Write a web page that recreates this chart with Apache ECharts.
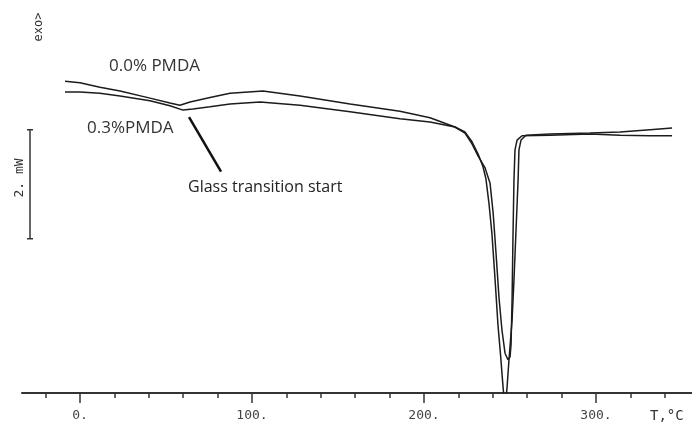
<!DOCTYPE html>
<html>
<head>
<meta charset="utf-8">
<script src="https://cdn.jsdelivr.net/npm/echarts@6/dist/echarts.min.js"></script>
<style>
html,body{margin:0;padding:0;background:#fff;}
#chart{width:692px;height:425px;}
</style>
</head>
<body>
<div id="chart"></div>
<script>
// Temperature (°C) / heat flow (mW, arbitrary offset) readings
const pmda00 = [
  [-8.7,5.72],[0,5.69],[11.6,5.61],[23.3,5.54],[40.7,5.41],[52.3,5.32],[58.1,5.28],
  [64.0,5.34],[75.6,5.42],[87.2,5.50],[106.4,5.54],[127.9,5.45],[157.0,5.30],[186.0,5.17],
  [203.5,5.05],[218.0,4.88],[223.8,4.79],[227.9,4.61],[231.4,4.39],[234.3,4.15],[236.0,3.93],
  [237.8,3.47],[239.5,2.92],[241.3,2.09],[243.0,1.25],[244.5,0.70],[245.6,0.25],[247.1,-0.31],
  [248.3,0.11],[249.4,0.61],[251.2,1.34],[252.3,2.07],[253.5,2.99],[254.7,3.91],[255.2,4.46],
  [256.4,4.64],[259.3,4.73],[273.3,4.75],[296.5,4.77],[314.0,4.79],[331.4,4.83],[344.2,4.86]
];
const pmda03 = [
  [-8.7,5.52],[0,5.52],[11.6,5.50],[23.3,5.45],[40.7,5.36],[52.3,5.27],[59.9,5.19],
  [65.7,5.21],[75.6,5.25],[87.2,5.30],[104.7,5.34],[127.9,5.28],[157.0,5.16],[186.0,5.03],
  [203.5,4.97],[218.0,4.88],[223.8,4.77],[227.9,4.57],[231.4,4.35],[235.5,4.13],[238.4,3.85],
  [240.2,3.30],[241.9,2.55],[243.6,1.75],[245.3,1.16],[247.1,0.73],[248.8,0.61],[250.0,0.66],
  [250.6,0.88],[251.2,1.71],[251.7,2.81],[252.3,3.91],[252.9,4.46],[254.1,4.64],[257.0,4.72],
  [273.3,4.73],[296.5,4.75],[314.0,4.73],[331.4,4.72],[344.2,4.72]
];
const glassLeader = [[63.4,5.06],[82.0,4.06]];
const scaleBar = [2.83, 4.83];      // 2 mW span
const majorTicks = [0,100,200,300];
const minorTicks = [-20,0,20,40,60,80,100,120,140,160,180,200,220,240,260,280,300,320,340];
const xMin = -33.7, xMax = 355.8, yMin = 0, yMax = 7.21;

const chart = echarts.init(document.getElementById('chart'));
const lineColor = '#1c1c1c';
const option = {
  backgroundColor: '#fff',
  animation: false,
  grid: {left: 22, right: 0, top: 0, bottom: 32},
  xAxis: [
    {
      type: 'value', min: xMin, max: xMax,
      splitLine: {show: false},
      axisLine: {show: true, lineStyle: {color: '#333', width: 2}},
      axisTick: {show: true, customValues: minorTicks, length: 5, lineStyle: {color: '#333', width: 1.5}},
      axisLabel: {show: true, customValues: majorTicks, formatter: v => v + '.', margin: 16,
        fontFamily: 'DejaVu Sans Mono', fontSize: 13, color: '#444'}
    },
    {
      type: 'value', min: xMin, max: xMax, position: 'bottom',
      splitLine: {show: false},
      axisLine: {show: false},
      axisTick: {show: true, customValues: majorTicks, length: 10, lineStyle: {color: '#333', width: 1.5}},
      axisLabel: {show: false}
    }
  ],
  yAxis: {type: 'value', min: yMin, max: yMax, show: false},
  series: [
    {name: '0.0% PMDA', type: 'line', data: pmda00, showSymbol: false, symbol: 'none',
      lineStyle: {color: lineColor, width: 1.5}, clip: true},
    {name: '0.3%PMDA', type: 'line', data: pmda03, showSymbol: false, symbol: 'none',
      lineStyle: {color: lineColor, width: 1.5}, clip: true},
    {name: 'leader', type: 'line', data: glassLeader, showSymbol: false, symbol: 'none',
      lineStyle: {color: '#111', width: 2.5}}
  ],
  graphic: [
    {type: 'text', x: 109, y: 66, style: {text: '0.0% PMDA', font: '17px "Open Sans"', fill: '#333', verticalAlign: 'middle'}},
    {type: 'text', x: 87, y: 128, style: {text: '0.3%PMDA', font: '17px "Open Sans"', fill: '#333', verticalAlign: 'middle'}},
    {type: 'text', x: 188, y: 187, style: {text: 'Glass transition start', font: '16px "Open Sans"', fill: '#222', verticalAlign: 'middle'}},
    {type: 'text', x: 39, y: 27, rotation: Math.PI / 2, style: {text: 'exo>', font: '12px "DejaVu Sans Mono"', fill: '#333', align: 'center', verticalAlign: 'middle'}},
    {type: 'text', x: 20, y: 178, rotation: Math.PI / 2, style: {text: '2. mW', font: '13px "DejaVu Sans Mono"', fill: '#333', align: 'center', verticalAlign: 'middle'}},
    {type: 'text', x: 650, y: 416, style: {text: 'T,°C', font: '14px "DejaVu Sans Mono"', fill: '#333', verticalAlign: 'middle'}}
  ]
};
chart.setOption(option);

// scale bar, positioned from the y scale so it spans exactly 2 mW
const pLow = chart.convertToPixel({gridIndex: 0}, [xMin, scaleBar[0]]);
const pHigh = chart.convertToPixel({gridIndex: 0}, [xMin, scaleBar[1]]);
const bx = 30;
chart.setOption({
  graphic: option.graphic.concat([
    {type: 'line', shape: {x1: bx, y1: pHigh[1], x2: bx, y2: pLow[1]}, style: {stroke: '#333', lineWidth: 1.5}},
    {type: 'line', shape: {x1: bx - 3, y1: pHigh[1], x2: bx + 3, y2: pHigh[1]}, style: {stroke: '#333', lineWidth: 1.5}},
    {type: 'line', shape: {x1: bx - 3, y1: pLow[1], x2: bx + 3, y2: pLow[1]}, style: {stroke: '#333', lineWidth: 1.5}}
  ])
});
</script>
</body>
</html>
